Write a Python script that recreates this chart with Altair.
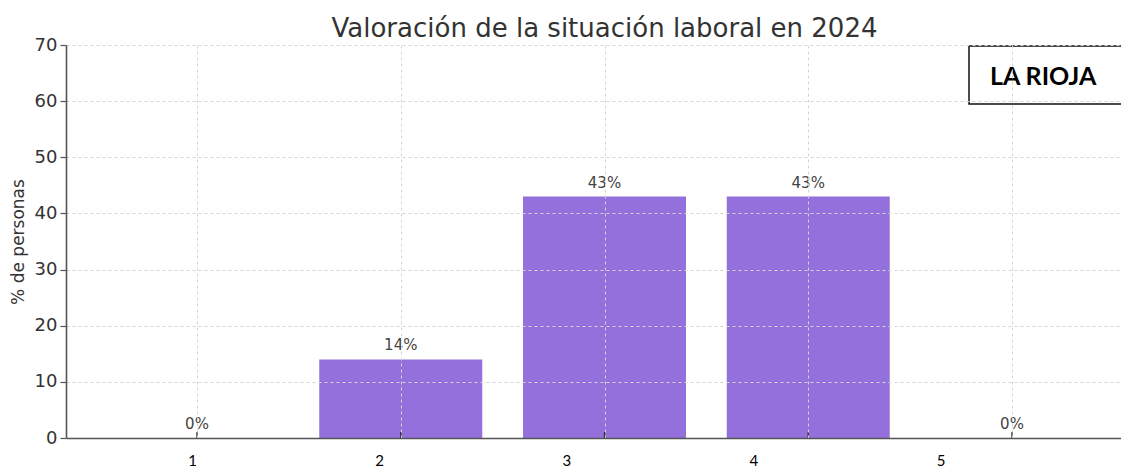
import altair as alt
import pandas as pd

categorias = [1, 2, 3, 4, 5]
valores = [0, 14, 43, 43, 0]
etiquetas = ["0%", "14%", "43%", "43%", "0%"]
titulo = "Valoración de la situación laboral en 2024"
region = "LA RIOJA"

df = pd.DataFrame({"cat": categorias, "valor": valores, "etiqueta": etiquetas})

W, H = 1055, 393
xscale = alt.Scale(domain=[0.357, 5.535], nice=False, zero=False)
yscale = alt.Scale(domain=[0, 70], nice=False)

base = alt.Chart(df).transform_calculate(x0="datum.cat - 0.4", x1="datum.cat + 0.4")

bars = base.mark_bar(color="#9370DB").encode(
    x=alt.X("x0:Q", scale=xscale,
            axis=alt.Axis(values=categorias, title=None, grid=True, gridDash=[3, 3],
                          gridColor="#d4d4d4", gridWidth=1, domainColor="#555555",
                          domainWidth=1.6, ticks=False, labelPadding=15,
                          labelFont="Lato", labelFontSize=15, labelColor="#000000",
                          labelOffset={"expr": "-5 - 16.6*(datum.value-1)"},
                          zindex=1, format="d")),
    x2="x1:Q",
    y=alt.Y("valor:Q", scale=yscale,
            axis=alt.Axis(values=[0, 10, 20, 30, 40, 50, 60, 70], title="% de personas",
                          grid=True, gridDash=[3, 3], gridColor="#d4d4d4", gridWidth=1,
                          domainColor="#555555", domainWidth=1.6, tickColor="#555555",
                          tickSize=6, tickWidth=1.2, labelFont="DejaVu Sans",
                          labelFontSize=18, labelColor="#333333", labelPadding=3,
                          titleFont="DejaVu Sans", titleFontSize=17,
                          titleFontWeight="normal", titleColor="#333333",
                          titlePadding=7, zindex=1)),
    y2=alt.datum(0),
)

ticks = base.mark_rule(color="#333333", strokeWidth=1.4).encode(
    x=alt.X("cat:Q", scale=xscale),
    y=alt.value(H),
    y2=alt.value(H - 6),
)

labels = base.mark_text(dy=-6, fontSize=15, font="DejaVu Sans", color="#444444",
                        baseline="bottom").encode(
    x=alt.X("cat:Q", scale=xscale),
    y=alt.Y("valor:Q", scale=yscale),
    text="etiqueta:N",
)

box_df = pd.DataFrame({"t": [region]})
box = alt.Chart(box_df).mark_rect(fill="white", stroke="#111111", strokeWidth=1.5).encode(
    x=alt.value(903), x2=alt.value(W + 4), y=alt.value(1), y2=alt.value(59)
)
box_text = alt.Chart(box_df).mark_text(font="Lato", fontWeight="bold", fontSize=25,
                                       align="left", baseline="middle",
                                       color="#000000").encode(
    x=alt.value(924), y=alt.value(32), text="t:N"
)

chart = alt.layer(bars, ticks, labels, box, box_text).properties(
    width=W, height=H,
    title=alt.TitleParams(titulo, font="DejaVu Sans", fontSize=26, fontWeight="normal",
                          color="#333333", dx=11, dy=10, offset=4),
    autosize=alt.AutoSizeParams(type="none"),
    padding={"left": 58, "top": 37, "right": 0, "bottom": 33},
).configure_view(stroke=None)

chart.save("out.html", embed_options={"renderer": "svg", "actions": False})
